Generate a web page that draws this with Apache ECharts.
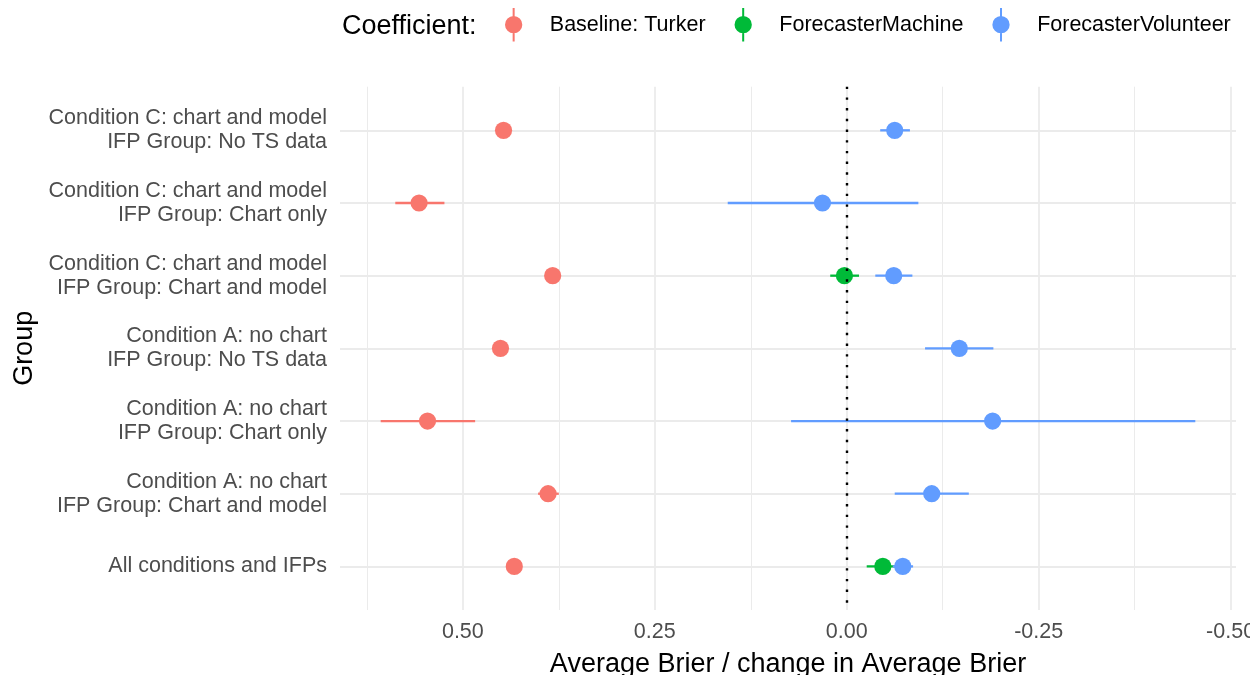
<!DOCTYPE html>
<html><head><meta charset="utf-8">
<script src="https://cdn.jsdelivr.net/npm/echarts@6/dist/echarts.min.js"></script>
<style>html,body{margin:0;padding:0;background:#fff}#c{width:1250px;height:675px}</style>
</head><body><div id="c"></div>
<script>
const categories = [
  'Condition C: chart and model\nIFP Group: No TS data',
  'Condition C: chart and model\nIFP Group: Chart only',
  'Condition C: chart and model\nIFP Group: Chart and model',
  'Condition A: no chart\nIFP Group: No TS data',
  'Condition A: no chart\nIFP Group: Chart only',
  'Condition A: no chart\nIFP Group: Chart and model',
  'All conditions and IFPs'
];
const coefficients = ['Baseline: Turker', 'ForecasterMachine', 'ForecasterVolunteer'];

const turkerEst = [0.447, 0.557, 0.383, 0.451, 0.546, 0.389, 0.433];
const turkerLo  = [0.441, 0.524, 0.377, 0.445, 0.484, 0.375, 0.427];
const turkerHi  = [0.453, 0.588, 0.389, 0.457, 0.607, 0.402, 0.439];

const machineEst = [null, null, 0.003, null, null, null, -0.047];
const machineLo  = [null, null, -0.016, null, null, null, -0.067];
const machineHi  = [null, null, 0.0215, null, null, null, -0.026];

const volunteerEst = [-0.0625, 0.0316, -0.0612, -0.1466, -0.190, -0.1107, -0.073];
const volunteerLo  = [-0.0823, -0.0933, -0.0855, -0.191, -0.454, -0.159, -0.0864];
const volunteerHi  = [-0.0436, 0.155, -0.0372, -0.102, 0.0725, -0.0625, -0.060];

const xMajorTicks = [0.5, 0.25, 0, -0.25, -0.5];
const xMinorTicks = [0.625, 0.375, 0.125, -0.125, -0.375];
const rowTicks = [0, 1, 2, 3, 4, 5, 6];

const colors = ['#F8766D', '#00BA38', '#619CFF'];
const FONT = '"Liberation Sans", Arial, Helvetica, sans-serif';
const legendIcon = 'path://M7.65 0H9.65V33.4H7.65Z M0 16.7A8.65 8.65 0 1 1 17.3 16.7A8.65 8.65 0 1 1 0 16.7Z';

function makeSeries(name, color, est, lo, hi) {
  const data = [];
  est.forEach((v, i) => { if (v != null) data.push([v, i, lo[i], hi[i]]); });
  return {
    type: 'custom', name: name, z: 2,
    xAxisIndex: 0, yAxisIndex: 0,
    data: data,
    encode: { x: [0, 2, 3], y: 1 },
    itemStyle: { color: color },
    renderItem: function (params, api) {
      const y = api.value(1);
      const p = api.coord([api.value(0), y]);
      const a = api.coord([api.value(2), y]);
      const b = api.coord([api.value(3), y]);
      return {
        type: 'group',
        children: [
          { type: 'line', shape: { x1: a[0], y1: a[1], x2: b[0], y2: b[1] },
            style: { stroke: color, lineWidth: 2.3 } },
          { type: 'circle', shape: { cx: p[0], cy: p[1], r: 8.6 },
            style: { fill: color } }
        ]
      };
    }
  };
}

const chart = echarts.init(document.getElementById('c'), null, { renderer: 'canvas' });
chart.setOption({
  backgroundColor: '#ffffff',
  animation: false,
  textStyle: { fontFamily: FONT },
  title: {
    text: 'Coefficient:', left: 342, top: 13, padding: 0,
    textStyle: { fontFamily: FONT, fontSize: 27, fontWeight: 'normal', color: '#000' }
  },
  legend: {
    left: 505, top: 8, padding: 0,
    itemWidth: 17.3, itemHeight: 33.4, itemGap: 29,
    textStyle: { fontFamily: FONT, fontSize: 21.5, color: '#000', padding: [2, 0, 0, 22.5] },
    data: coefficients.map((c, i) => ({ name: c, icon: legendIcon, itemStyle: { color: colors[i] } }))
  },
  grid: { left: 340, right: 14, top: 86.7, bottom: 65, containLabel: false, outerBoundsMode: 'none' },
  xAxis: [
    {
      type: 'value', min: -0.507, max: 0.66, inverse: true,
      axisLine: { show: false },
      axisTick: { show: false, customValues: xMajorTicks },
      axisLabel: {
        customValues: xMajorTicks, margin: 11.5,
        formatter: v => v.toFixed(2),
        color: '#4d4d4d', fontSize: 21.5, fontFamily: FONT
      },
      splitLine: { show: true, lineStyle: { color: '#EBEBEB', width: 1.8 } },
      name: 'Average Brier / change in Average Brier',
      nameLocation: 'middle', nameGap: 41,
      nameTextStyle: { color: '#000', fontSize: 27, fontFamily: FONT }
    },
    {
      type: 'value', min: -0.507, max: 0.66, inverse: true,
      axisLine: { show: false },
      axisTick: { show: false, customValues: xMinorTicks },
      axisLabel: { show: false },
      splitLine: { show: true, lineStyle: { color: '#EBEBEB', width: 1.0 } }
    }
  ],
  yAxis: {
    type: 'value', min: -0.6, max: 6.6, inverse: true,
    axisLine: { show: false },
    axisTick: { show: false, customValues: rowTicks },
    axisLabel: {
      customValues: rowTicks, margin: 13,
      formatter: v => categories[Math.round(v)],
      color: '#4d4d4d', fontSize: 21.5, lineHeight: 24, fontFamily: FONT, align: 'right',
      padding: [2, 0, 0, 0]
    },
    splitLine: { show: true, lineStyle: { color: '#EBEBEB', width: 1.8 } },
    name: 'Group', nameLocation: 'middle', nameGap: 302,
    nameTextStyle: { color: '#000', fontSize: 27, fontFamily: FONT }
  },
  series: [
    makeSeries(coefficients[0], colors[0], turkerEst, turkerLo, turkerHi),
    makeSeries(coefficients[1], colors[1], machineEst, machineLo, machineHi),
    makeSeries(coefficients[2], colors[2], volunteerEst, volunteerLo, volunteerHi),
    {
      type: 'scatter', name: 'zero', data: [], z: 5, silent: true,
      markLine: {
        silent: true, symbol: 'none', animation: false,
        label: { show: false },
        lineStyle: { color: '#000', type: [2.4, 8.3], width: 2.4 },
        data: [{ xAxis: 0 }]
      }
    }
  ]
});
</script></body></html>
